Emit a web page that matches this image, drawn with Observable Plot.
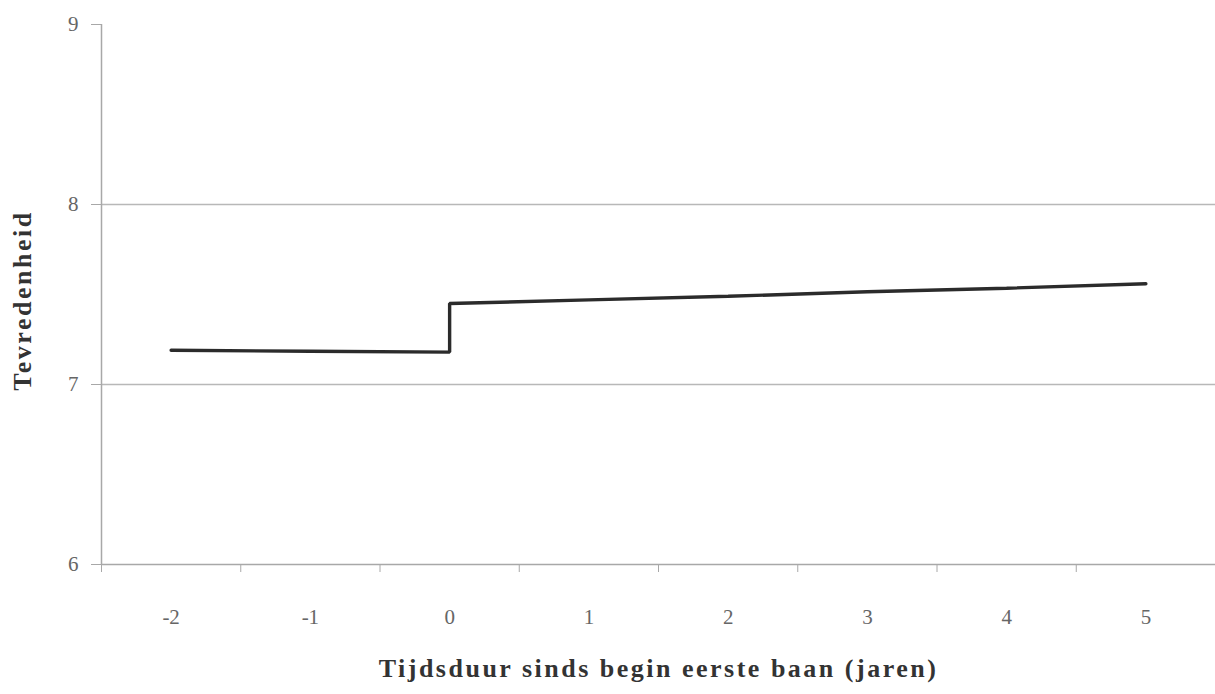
<!DOCTYPE html>
<html>
<head>
<meta charset="utf-8">
<script src="https://cdn.jsdelivr.net/npm/d3@7"></script>
<script src="https://cdn.jsdelivr.net/npm/@observablehq/plot@0.6"></script>
<style>
  html, body { margin: 0; padding: 0; background: #fff; }
  #chart svg { display: block; }
</style>
</head>
<body>
<div id="chart"></div>
<script>
// Data
const years = [-2, -1, 0, 0, 1, 2, 3, 4, 5];
const satisfaction = [7.19, 7.185, 7.18, 7.45, 7.47, 7.49, 7.515, 7.535, 7.56];
const xCategories = [-2, -1, 0, 1, 2, 3, 4, 5];
const yTicks = [6, 7, 8, 9];
const gridValues = [7, 8];
const xTitle = "Tijdsduur sinds begin eerste baan (jaren)";
const yTitle = "Tevredenheid";

const data = years.map((x, i) => ({x, y: satisfaction[i]}));
const xMin = d3.min(xCategories) - 0.5;
const xMax = d3.max(xCategories) + 0.5;
const boundaries = d3.range(xMin, xMax + 0.01, 1);

const serif = "'Liberation Serif', 'DejaVu Serif', serif";

const chart = Plot.plot({
  width: 1215,
  height: 694,
  marginLeft: 101,
  marginRight: 0,
  marginTop: 24,
  marginBottom: 130,
  style: {fontFamily: serif, fontSize: "21px", background: "#fff", overflow: "visible"},
  x: {domain: [xMin, xMax]},
  y: {domain: [d3.min(yTicks), d3.max(yTicks)]},
  marks: [
    Plot.ruleY(gridValues, {stroke: "#b8b8b8", strokeWidth: 1.3}),
    Plot.ruleY([d3.min(yTicks)], {stroke: "#a8a8a8", strokeWidth: 1.5}),
    Plot.ruleX([xMin], {y1: d3.min(yTicks), y2: d3.max(yTicks), stroke: "#a8a8a8", strokeWidth: 1.5}),
    Plot.axisY({ticks: yTicks, tickSize: 10, tickPadding: 13, stroke: "#a8a8a8", fill: "#666", fontSize: 21, label: null, tickFormat: d => String(d)}),
    Plot.axisX({ticks: boundaries, tickSize: 8, stroke: "#a8a8a8", tickFormat: () => "", label: null}),
    Plot.axisX({ticks: xCategories, tickSize: 0, tickPadding: 45, fill: "#666", fontSize: 21, label: null, tickFormat: d => String(d)}),
    Plot.line(data, {x: "x", y: "y", stroke: "#2b2b2b", strokeWidth: 3.4, strokeLinejoin: "miter"}),
    Plot.text([xTitle], {frameAnchor: "bottom", dy: 112, fontSize: 26, fontWeight: "bold", fill: "#333", fontFamily: serif}),
    Plot.text([yTitle], {frameAnchor: "left", textAnchor: "middle", dx: -79, dy: 6, rotate: -90, fontSize: 26, fontWeight: "bold", fill: "#333", fontFamily: serif})
  ]
});

// widen letter spacing of the two axis titles, as in the reference typeface
d3.select(chart).selectAll("text")
  .filter(function() { return this.textContent === xTitle || this.textContent === yTitle; })
  .attr("letter-spacing", "2.5px");

document.getElementById("chart").appendChild(chart);
</script>
</body>
</html>
